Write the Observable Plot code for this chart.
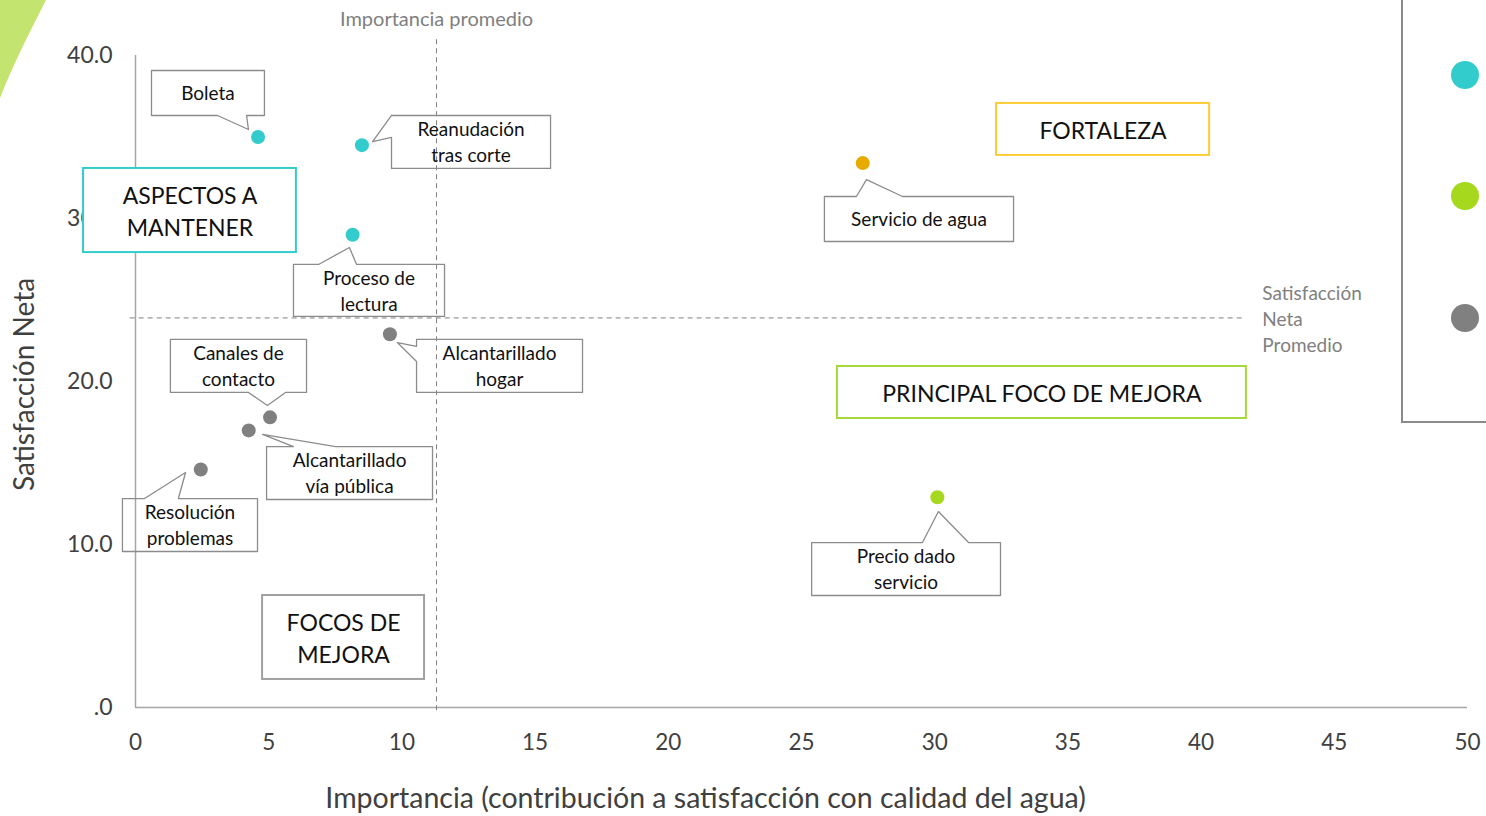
<!DOCTYPE html>
<html>
<head>
<meta charset="utf-8">
<script src="https://cdn.jsdelivr.net/npm/d3@7"></script>
<script src="https://cdn.jsdelivr.net/npm/@observablehq/plot@0.6"></script>
<style>
html,body{margin:0;padding:0;background:#fff;overflow:hidden}
#wrap{position:relative;width:1486px;height:816px;overflow:hidden;font-family:Lato,sans-serif;background:#fff}
#wrap svg.plot{position:absolute;left:0;top:0}
#deco{position:absolute;left:0;top:0}
#legend{position:absolute;left:1401px;top:-10px;width:200px;height:433px;border:2px solid #8a8a8a;box-sizing:border-box;background:#fff}
.sw{position:absolute;left:48px;width:28px;height:28px;border-radius:50%}
</style>
</head>
<body>
<div id="wrap">
  <svg id="deco" width="60" height="110"><path d="M0,0 H46 C32,28 14,62 0,98 Z" fill="#C3E46E"/></svg>
</div>
<script>
// ---- data ----
const categories = ["Aspectos a mantener", "Principal foco de mejora", "Focos de mejora", "Fortaleza"];
const colors = ["#33CCCC", "#A6D81E", "#808080", "#E6AA00"];
const atributos = ["Boleta", "Reanudación tras corte", "Proceso de lectura", "Servicio de agua",
  "Alcantarillado hogar", "Canales de contacto", "Alcantarillado vía pública", "Resolución problemas", "Precio dado servicio"];
const importancia = [4.6, 8.5, 8.15, 27.3, 9.55, 5.05, 4.25, 2.45, 30.1];
const satisfaccion = [35.0, 34.5, 29.0, 33.4, 22.9, 17.8, 17.0, 14.6, 12.9];
const grupo = ["Aspectos a mantener", "Aspectos a mantener", "Aspectos a mantener", "Fortaleza",
  "Focos de mejora", "Focos de mejora", "Focos de mejora", "Focos de mejora", "Principal foco de mejora"];
const importanciaPromedio = 11.3;
const satisfaccionPromedio = 23.9;
const xTicks = [0, 5, 10, 15, 20, 25, 30, 35, 40, 45, 50];
const yTicks = [0, 10, 20, 30, 40];
const legendOrder = ["Aspectos a mantener", "Principal foco de mejora", "Focos de mejora"];

// ---- annotation layout (data units) ----
const callouts = [
  {label: "Boleta", x1: 0.60, x2: 4.84, yT: 39.08, yB: 36.32, side: "bottom", b1: 3.08, b2: 4.17, tx: 4.24, ty: 35.46},
  {label: "Reanudación\ntras corte", x1: 9.61, x2: 15.58, yT: 36.32, yB: 33.07, side: "left", b1: 36.32, b2: 34.97, tx: 8.90, ty: 34.72},
  {label: "Proceso de\nlectura", x1: 5.93, x2: 11.60, yT: 27.18, yB: 23.99, side: "top", b1: 6.87, b2: 8.30, tx: 8.03, ty: 28.22},
  {label: "Servicio de agua", x1: 25.86, x2: 32.96, yT: 31.35, yB: 28.59, side: "top", b1: 27.06, b2: 28.79, tx: 27.44, ty: 32.39},
  {label: "Alcantarillado\nhogar", x1: 10.55, x2: 16.78, yT: 22.58, yB: 19.33, side: "left", b1: 22.15, b2: 21.23, tx: 9.83, ty: 22.39},
  {label: "Canales de\ncontacto", x1: 1.31, x2: 6.42, yT: 22.58, yB: 19.33, side: "bottom", b1: 4.24, b2: 5.63, tx: 4.95, ty: 18.53},
  {label: "Alcantarillado\nvía pública", x1: 4.92, x2: 11.15, yT: 16.01, yB: 12.76, side: "top", b1: 5.93, b2: 7.51, tx: 4.77, ty: 16.75},
  {label: "Resolución\nproblemas", x1: -0.49, x2: 4.58, yT: 12.82, yB: 9.57, side: "top", b1: 0.34, b2: 1.61, tx: 1.88, ty: 14.42},
  {label: "Precio dado\nservicio", x1: 25.38, x2: 32.47, yT: 10.12, yB: 6.87, side: "top", b1: 29.54, b2: 31.27, tx: 30.14, ty: 12.02}
];
const quadrants = [
  {label: "ASPECTOS A\nMANTENER", x1: -1.95, x2: 6.04, yT: 33.07, yB: 27.91, color: "#33CCCC"},
  {label: "FORTALEZA", x1: 32.32, x2: 40.32, yT: 37.06, yB: 33.87, color: "#FFCC33"},
  {label: "PRINCIPAL FOCO DE MEJORA", x1: 26.35, x2: 41.70, yT: 20.92, yB: 17.73, color: "#A6D83A"},
  {label: "FOCOS DE\nMEJORA", x1: 4.77, x2: 10.85, yT: 6.87, yB: 1.72, color: "#A0A0A0"}
];
const refExtent = {vY1: -0.2, vY2: 41.2, hX1: -0.2, hX2: 41.6, promLabelX: 42.3, xTitleX: 21.4};

// ---- build ----
const points = atributos.map((a, i) => ({atributo: a, importancia: importancia[i], satisfaccion: satisfaccion[i], grupo: grupo[i]}));

function calloutPath(c) {
  const {x1, x2, yT, yB, side, b1, b2, tx, ty} = c;
  let pts;
  if (side === "top") pts = [[x1, yT], [b1, yT], [tx, ty], [b2, yT], [x2, yT], [x2, yB], [x1, yB], [x1, yT]];
  else if (side === "bottom") pts = [[x1, yT], [x2, yT], [x2, yB], [b2, yB], [tx, ty], [b1, yB], [x1, yB], [x1, yT]];
  else pts = [[x1, yT], [x2, yT], [x2, yB], [x1, yB], [x1, b2], [tx, ty], [x1, b1], [x1, yT]];
  return pts.map(([x, y]) => ({id: c.label, x, y}));
}
const calloutPts = callouts.flatMap(calloutPath);

const chart = Plot.plot({
  width: 1486, height: 816,
  marginTop: 55, marginBottom: 109, marginLeft: 135, marginRight: 19,
  x: {domain: [0, 50]},
  y: {domain: [0, 40]},
  color: {domain: categories, range: colors},
  style: {fontFamily: "Lato, sans-serif", background: "transparent", color: "#404040", overflow: "visible"},
  marks: [
    Plot.axisX({ticks: xTicks, tickSize: 0, tickPadding: 27, fontSize: 22.5, label: null, tickFormat: d => String(d)}),
    Plot.axisY({ticks: yTicks, tickSize: 0, tickPadding: 23, fontSize: 23, label: null,
      tickFormat: d => d === 0 ? ".0" : d.toFixed(1)}),
    Plot.ruleX([0], {y1: 0, y2: 40, stroke: "#a6a6a6", strokeWidth: 1.5}),
    Plot.ruleY([0], {x1: 0, x2: 50, stroke: "#a6a6a6", strokeWidth: 1.5}),
    Plot.ruleX([importanciaPromedio], {y1: refExtent.vY1, y2: refExtent.vY2, stroke: "#7f7f7f", strokeDasharray: "5,4"}),
    Plot.ruleY([satisfaccionPromedio], {x1: refExtent.hX1, x2: refExtent.hX2, stroke: "#7f7f7f", strokeDasharray: "5,4"}),
    Plot.text(["Importancia promedio"], {x: importanciaPromedio, frameAnchor: "top", lineAnchor: "middle", dy: -36,
      fontSize: 20, fill: "#808080", text: d => d}),
    Plot.text(["Satisfacción\nNeta\nPromedio"], {x: refExtent.promLabelX, y: satisfaccionPromedio, text: d => d,
      textAnchor: "start", lineAnchor: "middle", lineHeight: 1.37, fontSize: 19, fill: "#808080"}),
    Plot.text(["Satisfacción Neta"], {frameAnchor: "left", textAnchor: "middle", lineAnchor: "middle", dx: -110, dy: 3,
      rotate: -90, fontSize: 28, fill: "#404040", text: d => d}),
    Plot.text(["Importancia (contribución a satisfacción con calidad del agua)"], {x: refExtent.xTitleX, frameAnchor: "bottom",
      lineAnchor: "middle", dy: 91, fontSize: 28.5, fill: "#404040", text: d => d}),
    Plot.line(calloutPts, {x: "x", y: "y", z: "id", stroke: "#8c8c8c", strokeWidth: 1.3, fill: "none", curve: "linear"}),
    ...quadrants.map(q => Plot.rect([q], {x1: "x1", x2: "x2", y1: "yB", y2: "yT", fill: "white", stroke: q.color, strokeWidth: 2})),
    Plot.text(quadrants, {x: d => (d.x1 + d.x2) / 2, y: d => (d.yT + d.yB) / 2, text: "label",
      lineAnchor: "middle", lineHeight: 1.39, fontSize: 23, fill: "#111", dy: -1}),
    Plot.text(callouts, {x: d => (d.x1 + d.x2) / 2, y: d => (d.yT + d.yB) / 2, text: "label",
      lineAnchor: "middle", lineHeight: 1.37, fontSize: 19, fill: "#111", dy: -1}),
    Plot.dot(points, {x: "importancia", y: "satisfaccion", fill: "grupo", r: 7, stroke: "none"})
  ]
});
const wrap = document.getElementById("wrap");
chart.classList.add("plot");
wrap.insertBefore(chart, wrap.firstChild);

// legend (partially cut off at the right edge, as in the reference)
const legend = document.createElement("div");
legend.id = "legend";
const legendCenters = [75, 196, 318];
legendOrder.forEach((c, i) => {
  const s = document.createElement("div");
  s.className = "sw";
  s.style.top = (legendCenters[i] - 6) + "px";
  s.style.background = colors[categories.indexOf(c)];
  s.title = c;
  legend.appendChild(s);
});
wrap.appendChild(legend);
</script>
</body>
</html>
